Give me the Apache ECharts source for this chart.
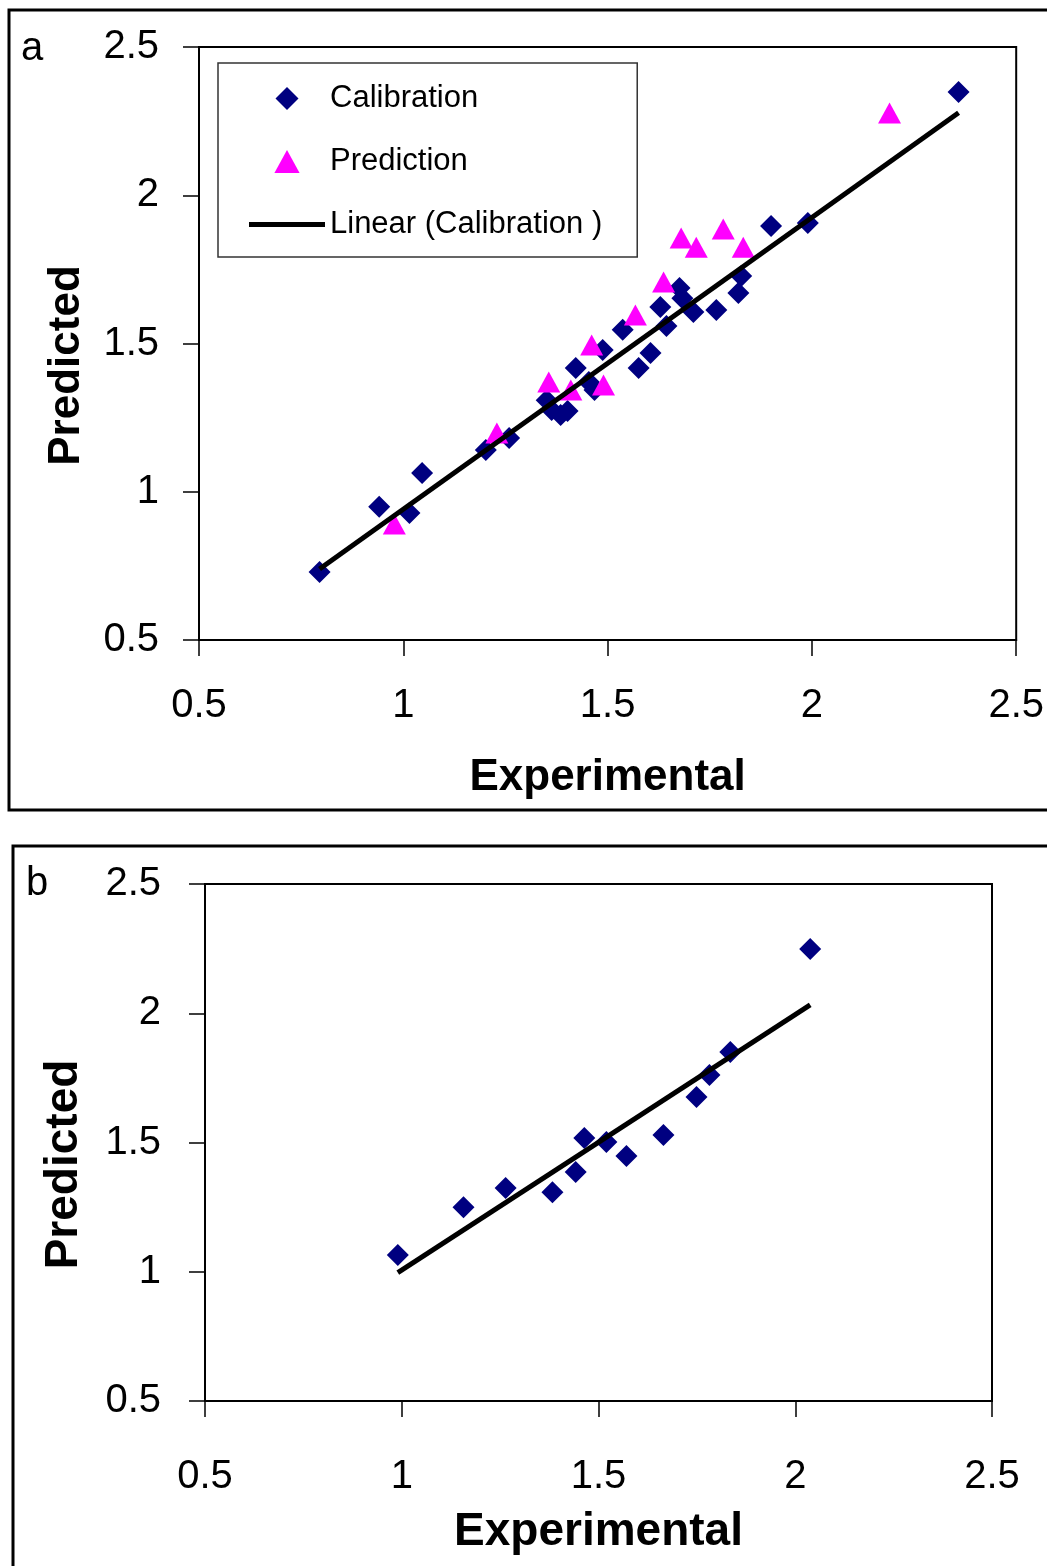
<!DOCTYPE html>
<html>
<head>
<meta charset="utf-8">
<script src="https://cdn.jsdelivr.net/npm/echarts@6/dist/echarts.min.js"></script>
<style>
html,body{margin:0;padding:0;background:#fff;}
#main{width:1047px;height:1566px;}
</style>
</head>
<body>
<div id="main"></div>
<script>
var FONT = '"Liberation Sans", Arial, sans-serif';

// panel a
var calibX = [0.795, 0.941, 1.015, 1.046, 1.202, 1.259, 1.351, 1.363, 1.385, 1.402, 1.422, 1.454, 1.468, 1.488, 1.537, 1.576, 1.605, 1.629, 1.644, 1.676, 1.683, 1.710, 1.766, 1.820, 1.827, 1.900, 1.990, 2.359];
var calibY = [0.729, 0.949, 0.928, 1.063, 1.141, 1.181, 1.309, 1.276, 1.259, 1.272, 1.417, 1.370, 1.343, 1.478, 1.546, 1.417, 1.468, 1.623, 1.559, 1.687, 1.653, 1.606, 1.613, 1.670, 1.728, 1.896, 1.906, 2.348];
var predX = [0.978, 1.229, 1.356, 1.410, 1.490, 1.461, 1.568, 1.637, 1.680, 1.717, 1.783, 1.832, 2.190];
var predY = [0.891, 1.198, 1.370, 1.343, 1.360, 1.495, 1.596, 1.707, 1.856, 1.825, 1.886, 1.825, 2.277];

// panel b
var testX = [0.990, 1.157, 1.264, 1.383, 1.442, 1.464, 1.520, 1.571, 1.665, 1.749, 1.782, 1.835, 2.038];
var testY = [1.065, 1.250, 1.324, 1.308, 1.386, 1.517, 1.502, 1.448, 1.529, 1.676, 1.761, 1.850, 2.249];

var axisMin = 0.5, axisMax = 2.5, axisStep = 0.5;

// legend icons (path icons keep their aspect inside the item box)
var DIAMOND = 'path://M0,-1L1,0L0,1L-1,0Z';
var TRIANGLE = 'path://M0,0L11.5,21L-11.5,21Z';
var BAR = 'path://M0,0H76V5H0Z';

function pairs(xs, ys){
	var out = [];
	for(var i=0;i<xs.length;i++){
		out.push([xs[i], ys[i]]);
	}
	return out;
}

// least squares trendline over the x range of the data
function trend(xs, ys){
	var n = xs.length, sx = 0, sy = 0, sxx = 0, sxy = 0;
	for(var i=0;i<n;i++){
		sx += xs[i]; sy += ys[i];
		sxx += xs[i]*xs[i]; sxy += xs[i]*ys[i];
	}
	var b = (n*sxy - sx*sy)/(n*sxx - sx*sx);
	var a = (sy - b*sx)/n;
	var lo = Math.min.apply(null, xs), hi = Math.max.apply(null, xs);
	return [[lo, a + b*lo], [hi, a + b*hi]];
}

function xAxisFor(idx, margin, gap, nameSize){
	return {
		gridIndex: idx, type: 'value', min: axisMin, max: axisMax, interval: axisStep,
		name: 'Experimental', nameLocation: 'middle', nameGap: gap,
		nameTextStyle: {fontFamily: FONT, fontSize: nameSize, fontWeight: 'bold', color: '#000'},
		axisLine: {show: true, onZero: false, lineStyle: {color: '#000', width: 2}},
		axisTick: {show: true, length: 16, lineStyle: {color: '#000', width: 1.5}},
		axisLabel: {margin: margin, fontFamily: FONT, fontSize: 40, color: '#000'},
		splitLine: {show: false}
	};
}

function yAxisFor(idx, margin, gap, nameSize){
	return {
		gridIndex: idx, type: 'value', min: axisMin, max: axisMax, interval: axisStep,
		name: 'Predicted', nameLocation: 'middle', nameGap: gap,
		nameTextStyle: {fontFamily: FONT, fontSize: nameSize, fontWeight: 'bold', color: '#000', padding: [0, 44, 0, 0]},
		axisLine: {show: true, onZero: false, lineStyle: {color: '#000', width: 2}},
		axisTick: {show: true, length: 16, lineStyle: {color: '#000', width: 1.5}},
		axisLabel: {margin: margin, fontFamily: FONT, fontSize: 40, color: '#000'},
		splitLine: {show: false}
	};
}

var chart = echarts.init(document.getElementById('main'), null, {renderer: 'canvas'});

var option = {
	backgroundColor: '#fff',
	animation: false,
	grid: [
		{left: 199, top: 47, width: 821, height: 593, show: true, borderColor: '#000', borderWidth: 2},
		{left: 205, top: 884, width: 787, height: 517, show: true, borderColor: '#000', borderWidth: 2}
	],
	xAxis: [xAxisFor(0, 46, 116, 44), xAxisFor(1, 56, 108, 46)],
	yAxis: [yAxisFor(0, 40, 110, 44), yAxisFor(1, 44, 118, 46)],
	legend: {
		left: 218, top: 63, orient: 'vertical',
		padding: [20, 35, 17, 31],
		itemGap: 32, itemWidth: 76, itemHeight: 23,
		symbolKeepAspect: true,
		borderColor: '#333', borderWidth: 1.5, borderRadius: 0,
		textStyle: {fontFamily: FONT, fontSize: 31, color: '#000', lineHeight: 30},
		data: [
			{name: 'Calibration', icon: DIAMOND},
			{name: 'Prediction', icon: TRIANGLE},
			{name: 'Linear (Calibration )', icon: BAR}
		]
	},
	graphic: [
		{type: 'rect', shape: {x: 9, y: 10, width: 1080, height: 800}, style: {fill: 'none', stroke: '#000', lineWidth: 3}},
		{type: 'rect', shape: {x: 13, y: 846, width: 1080, height: 760}, style: {fill: 'none', stroke: '#000', lineWidth: 3}},
		{type: 'text', left: 21, top: 29, style: {text: 'a', fontFamily: FONT, fontSize: 40, fill: '#000'}},
		{type: 'text', left: 26, top: 864, style: {text: 'b', fontFamily: FONT, fontSize: 40, fill: '#000'}}
	],
	series: [
		{
			name: 'Calibration', type: 'scatter', xAxisIndex: 0, yAxisIndex: 0,
			symbol: 'diamond', symbolSize: 22, itemStyle: {color: '#000080', opacity: 1},
			data: pairs(calibX, calibY)
		},
		{
			name: 'Prediction', type: 'scatter', xAxisIndex: 0, yAxisIndex: 0,
			symbol: 'triangle', symbolSize: [23, 21], itemStyle: {color: '#ff00ff', opacity: 1},
			data: pairs(predX, predY)
		},
		{
			name: 'Linear (Calibration )', type: 'line', xAxisIndex: 0, yAxisIndex: 0,
			symbol: 'none', showSymbol: false, lineStyle: {color: '#000', width: 5},
			itemStyle: {color: '#000'},
			data: trend(calibX, calibY)
		},
		{
			name: 'Test', type: 'scatter', xAxisIndex: 1, yAxisIndex: 1,
			symbol: 'diamond', symbolSize: 22, itemStyle: {color: '#000080', opacity: 1},
			data: pairs(testX, testY)
		},
		{
			name: 'Linear (Test)', type: 'line', xAxisIndex: 1, yAxisIndex: 1,
			symbol: 'none', showSymbol: false, lineStyle: {color: '#000', width: 5},
			data: trend(testX, testY)
		}
	]
};
chart.setOption(option);
</script>
</body>
</html>
